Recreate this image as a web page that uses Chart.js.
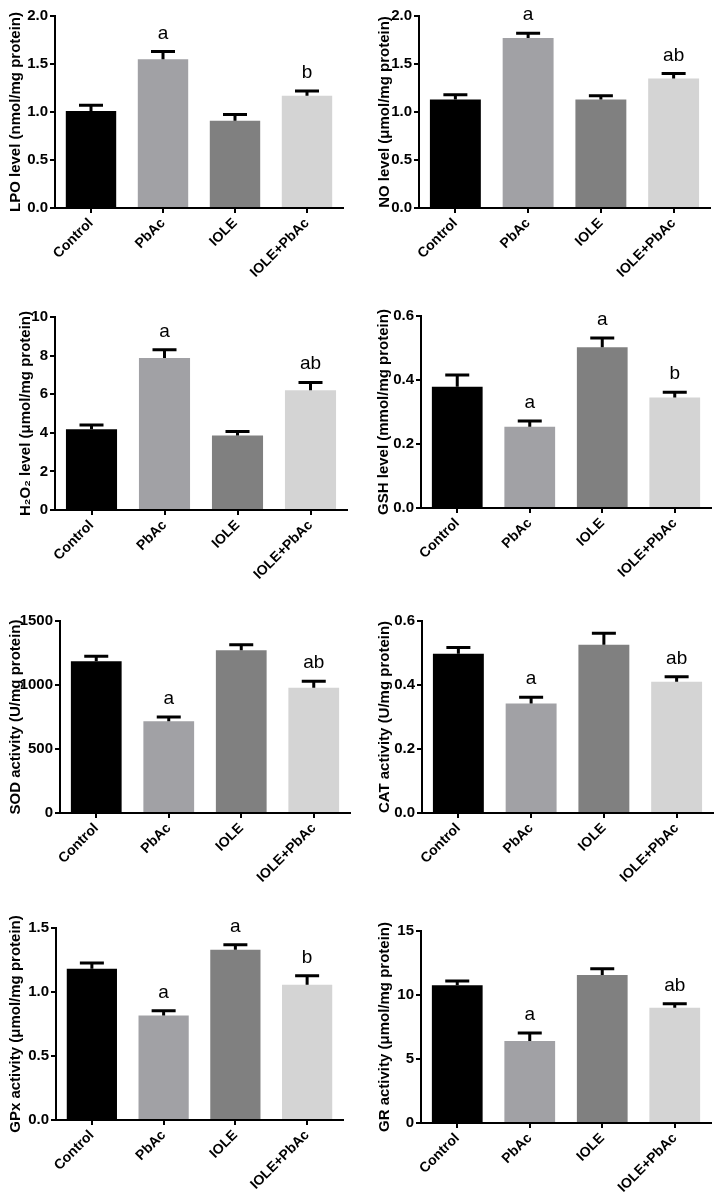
<!DOCTYPE html>
<html>
<head>
<meta charset="utf-8">
<script src="https://cdn.jsdelivr.net/npm/chart.js@4.4.1/dist/chart.umd.min.js"></script>
<style>
  body { margin: 0; background: #fff; }
  #wrap { position: relative; width: 717px; height: 1200px; }
  .panel { position: absolute; }
</style>
</head>
<body>
<div id="wrap"></div>
<script>
// groups and bar colours
const groups = ['Control', 'PbAc', 'IOLE', 'IOLE+PbAc'];
const barColors = ['#000000', '#a1a1a5', '#808080', '#d4d4d4'];

// mean values, SEM and significance letters per assay
const lpoMean = [1.01, 1.55, 0.91, 1.17];
const lpoSem = [0.06, 0.08, 0.065, 0.05];
const lpoLetters = ['', 'a', '', 'b'];

const noMean = [1.13, 1.77, 1.13, 1.35];
const noSem = [0.05, 0.05, 0.04, 0.05];
const noLetters = ['', 'a', '', 'ab'];

const h2o2Mean = [4.19, 7.87, 3.86, 6.21];
const h2o2Sem = [0.22, 0.43, 0.21, 0.40];
const h2o2Letters = ['', 'a', '', 'ab'];

const gshMean = [0.379, 0.254, 0.502, 0.345];
const gshSem = [0.037, 0.018, 0.029, 0.017];
const gshLetters = ['', 'a', 'a', 'b'];

const sodMean = [1185, 716, 1271, 979];
const sodSem = [39, 34, 44, 50];
const sodLetters = ['', 'a', '', 'ab'];

const catMean = [0.498, 0.342, 0.526, 0.410];
const catSem = [0.019, 0.020, 0.036, 0.016];
const catLetters = ['', 'a', '', 'ab'];

const gpxMean = [1.182, 0.817, 1.330, 1.057];
const gpxSem = [0.044, 0.036, 0.040, 0.070];
const gpxLetters = ['', 'a', 'a', 'b'];

const grMean = [10.76, 6.41, 11.56, 9.01];
const grSem = [0.33, 0.62, 0.50, 0.31];
const grLetters = ['', 'a', '', 'ab'];

// panel setup: [left, top, axisX, plotTop, plotRight, plotBottom, titleX]
const panels = [
  { title: 'LPO level (nmol/mg protein)', mean: lpoMean, sem: lpoSem, letters: lpoLetters, max: 2, step: 0.5, dec: 1, geo: [0, 0, 55, 16, 343, 208, 16] },
  { title: 'NO level (μmol/mg protein)', mean: noMean, sem: noSem, letters: noLetters, max: 2, step: 0.5, dec: 1, geo: [358, 0, 61, 16, 352, 208, 27] },
  { title: 'H₂O₂ level (μmol/mg protein)', mean: h2o2Mean, sem: h2o2Sem, letters: h2o2Letters, max: 10, step: 2, dec: 0, geo: [0, 300, 55, 17, 347, 210, 26] },
  { title: 'GSH level (mmol/mg protein)', mean: gshMean, sem: gshSem, letters: gshLetters, max: 0.6, step: 0.2, dec: 1, geo: [358, 300, 63, 16, 353, 208, 26] },
  { title: 'SOD activity (U/mg protein)', mean: sodMean, sem: sodSem, letters: sodLetters, max: 1500, step: 500, dec: 0, geo: [0, 600, 60, 21, 350, 213, 16] },
  { title: 'CAT activity (U/mg protein)', mean: catMean, sem: catSem, letters: catLetters, max: 0.6, step: 0.2, dec: 1, geo: [358, 600, 64, 21, 355, 213, 27] },
  { title: 'GPx activity (μmol/mg protein)', mean: gpxMean, sem: gpxSem, letters: gpxLetters, max: 1.5, step: 0.5, dec: 1, geo: [0, 900, 56, 28, 343, 220, 16] },
  { title: 'GR activity (μmol/mg protein)', mean: grMean, sem: grSem, letters: grLetters, max: 15, step: 5, dec: 0, geo: [358, 900, 63, 31, 353, 223, 27] }
];

const FONT = '"Liberation Sans", Arial, sans-serif';
Chart.defaults.font.family = FONT;
Chart.defaults.color = '#000';

const W = 359, H = 300;
const wrap = document.getElementById('wrap');

panels.forEach((p, k) => {
  const [left, top, axisX, plotTop, plotRight, plotBottom, titleX] = p.geo;
  const div = document.createElement('div');
  div.className = 'panel';
  div.style.left = left + 'px';
  div.style.top = top + 'px';
  const canvas = document.createElement('canvas');
  canvas.width = W;
  canvas.height = H;
  div.appendChild(canvas);
  wrap.appendChild(div);

  // error bars (upper only) and letters
  const sigPlugin = {
    id: 'sig' + k,
    afterDatasetsDraw(chart) {
      const ctx = chart.ctx;
      const y = chart.scales.y;
      const bars = chart.getDatasetMeta(0).data;
      ctx.save();
      ctx.strokeStyle = '#000';
      ctx.fillStyle = '#000';
      ctx.lineWidth = 3;
      ctx.font = '19px ' + FONT;
      ctx.textAlign = 'center';
      ctx.textBaseline = 'alphabetic';
      bars.forEach((bar, i) => {
        const y0 = y.getPixelForValue(p.mean[i]);
        const y1 = y.getPixelForValue(p.mean[i] + p.sem[i]);
        ctx.beginPath();
        ctx.moveTo(bar.x, y0);
        ctx.lineTo(bar.x, y1);
        ctx.moveTo(bar.x - 12, y1);
        ctx.lineTo(bar.x + 12, y1);
        ctx.stroke();
        if (p.letters[i]) ctx.fillText(p.letters[i], bar.x, y1 - 13);
      });
      ctx.restore();
    }
  };

  new Chart(canvas, {
    type: 'bar',
    data: {
      labels: groups,
      datasets: [{
        data: p.mean,
        backgroundColor: barColors,
        borderWidth: 0,
        categoryPercentage: 1,
        barPercentage: 0.7
      }]
    },
    options: {
      responsive: false,
      animation: false,
      devicePixelRatio: 1,
      layout: { padding: { top: plotTop, right: W - plotRight, bottom: 0, left: 0 } },
      plugins: { legend: { display: false }, tooltip: { enabled: false } },
      scales: {
        x: {
          afterFit: s => { s.height = H - plotBottom; },
          grid: { drawOnChartArea: false, offset: false, tickLength: 5, color: '#000', lineWidth: 2 },
          border: { color: '#000', width: 2 },
          ticks: { color: '#000', minRotation: 45, maxRotation: 45, padding: 2, font: { size: 14, weight: 'bold' } }
        },
        y: {
          min: 0,
          max: p.max,
          afterFit: s => { s.width = axisX; },
          grid: { drawOnChartArea: false, tickLength: 5, color: '#000', lineWidth: 2 },
          border: { color: '#000', width: 2 },
          ticks: {
            stepSize: p.step,
            color: '#000',
            padding: 2,
            font: { size: 15, weight: 'bold' },
            callback: v => Number(v).toFixed(p.dec)
          },
          title: {
            display: true,
            text: p.title,
            color: '#000',
            font: { size: 15, weight: 'bold' },
            padding: { top: titleX - 9, bottom: 0 }
          }
        }
      }
    },
    plugins: [sigPlugin]
  });
});
</script>
</body>
</html>
